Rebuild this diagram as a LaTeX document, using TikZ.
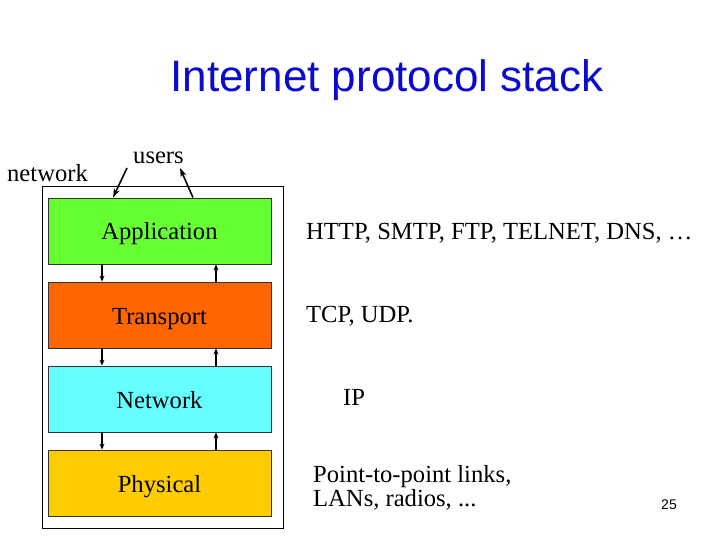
\documentclass[tikz,border=0pt]{standalone}
\usepackage{fontspec}
\setmainfont{Liberation Serif}
\newfontfamily\titlefont{Liberation Sans}
\usetikzlibrary{arrows.meta}

\definecolor{titleblue}{RGB}{10,10,210}
\definecolor{appgreen}{RGB}{102,255,51}
\definecolor{transorange}{RGB}{255,102,0}
\definecolor{netcyan}{RGB}{102,255,255}
\definecolor{physyellow}{RGB}{255,204,0}

\tikzset{
  layer/.style={draw=black!80, line width=0.8pt, minimum width=223pt,
    minimum height=66pt, inner sep=0pt, text height=18pt, text depth=0pt,
    font=\fontsize{24.6}{24}\selectfont},
  label/.style={anchor=base west, inner sep=0pt, font=\fontsize{24.6}{24}\selectfont},
  link/.style={-{Stealth[length=6pt,width=5pt]}, line width=1.2pt},
  userlink/.style={-{Stealth[length=9pt,width=6pt]}, line width=1.6pt}
}

\begin{document}
\begin{tikzpicture}[x=1pt, y=-1pt]
    \useasboundingbox (0,0) rectangle (720,540);

    \node[anchor=base, text=titleblue, font=\titlefont\fontsize{44}{44}\selectfont]
        (title) at (387,92) {Internet protocol stack};

    % marco de la pila
    \node[draw, line width=0.8pt, minimum width=241pt, minimum height=342pt,
        inner sep=0pt] (stack) at (162.5,357) {};

    % capas
    \node[layer, fill=appgreen]    (app)   at (159.5,231) {Application};
    \node[layer, fill=transorange] (trans) at (159.5,315) {Transport};
    \node[layer, fill=netcyan]     (net)   at (159.5,399) {Network};
    \node[layer, fill=physyellow]  (phys)  at (159.5,483) {Physical};

    % flechas entre capas
    \foreach \a/\b in {app/trans, trans/net, net/phys} {
        \draw[link] (\a.south -| 102,0) -- (\b.north -| 102,0);
        \draw[link] (\b.north -| 216,0) -- (\a.south -| 216,0);
    }

    % usuarios
    \node[label] (network) at (7,182) {network};
    \node[label] (users) at (133,164) {users};
    \coordinate (uin)  at (127,168);
    \coordinate (uout) at (180,168);
    \draw[userlink] (uin) -- (app.north -| 113,0);
    \draw[userlink] (app.north -| 193,0) -- (uout);

    % protocolos
    \node[label] (appproto)   at (306,240) {HTTP, SMTP, FTP, TELNET, DNS, \dots};
    \node[label] (transproto) at (306,322) {TCP, UDP.};
    \node[label] (netproto)   at (343,405) {IP};
    \node[label, align=left, anchor=north west] (physproto) at (313,465)
        {Point-to-point links,\\ LANs, radios, ...};

    \node[anchor=base, inner sep=0pt, font=\titlefont\fontsize{14}{14}\selectfont]
        (page) at (669,509) {25};
\end{tikzpicture}
\end{document}
